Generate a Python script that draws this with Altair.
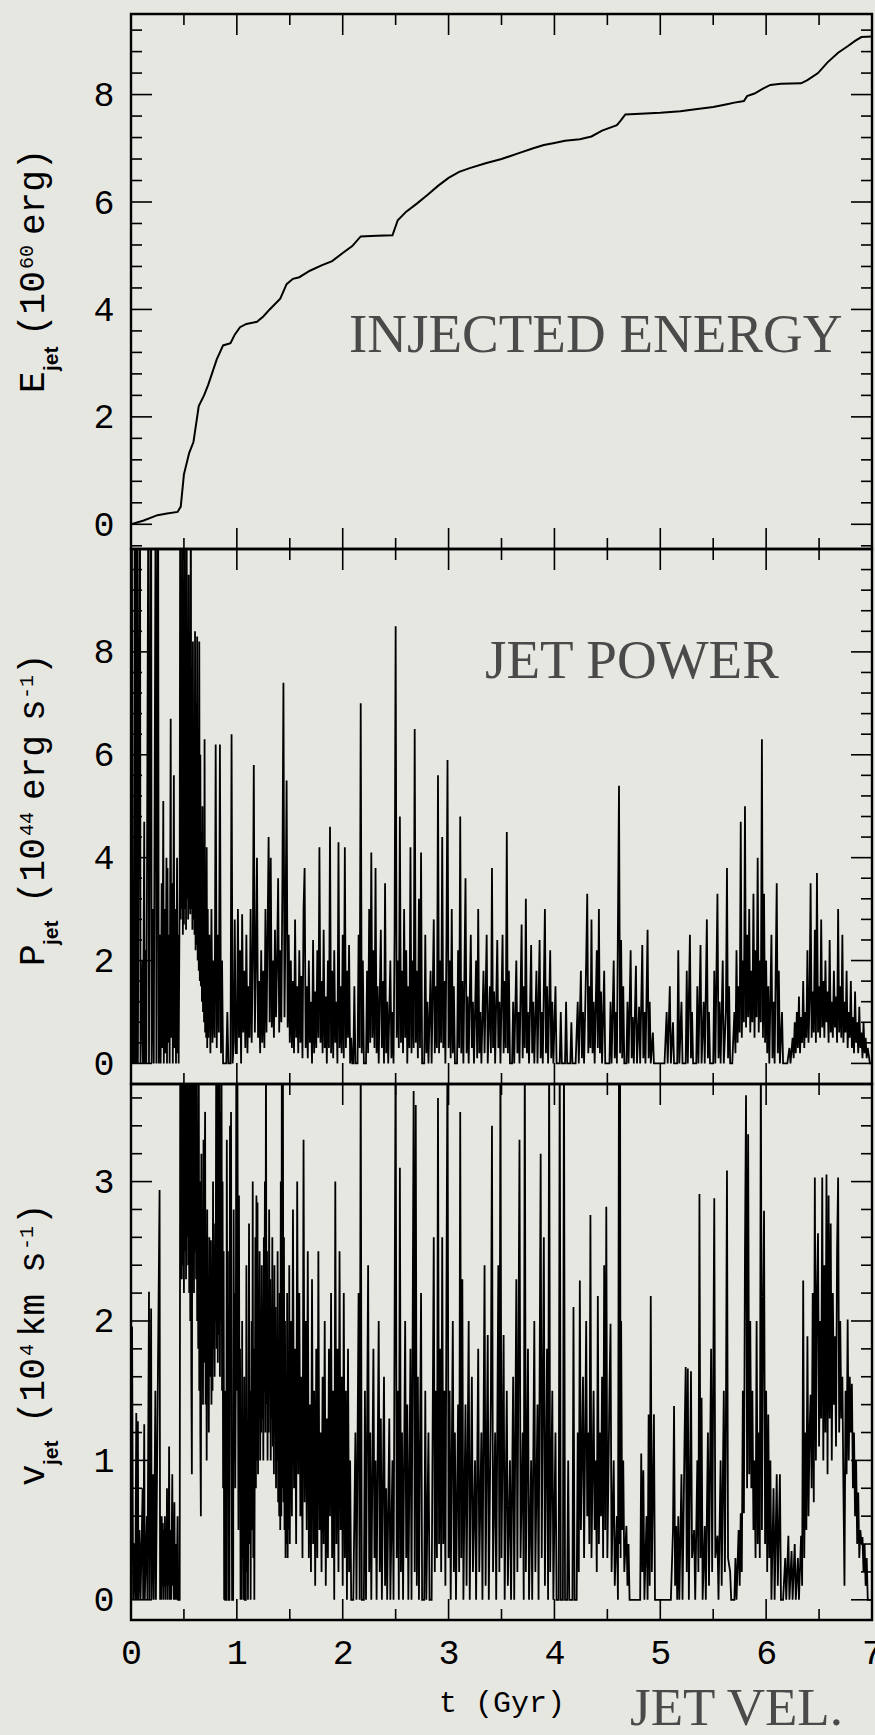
import altair as alt
import pandas as pd

# ---------------- data ----------------
energy_points = [
    (0.00, 0.00), (0.12, 0.07), (0.25, 0.17), (0.34, 0.20), (0.44, 0.23), (0.47, 0.33), (0.50, 0.93),
    (0.55, 1.33), (0.59, 1.53), (0.64, 2.20), (0.69, 2.40), (0.73, 2.60), (0.81, 3.07), (0.87, 3.33),
    (0.94, 3.37), (0.98, 3.53), (1.03, 3.67), (1.09, 3.73), (1.19, 3.77), (1.25, 3.87), (1.31, 4.00),
    (1.41, 4.20), (1.47, 4.47), (1.53, 4.57), (1.59, 4.60), (1.69, 4.72), (1.80, 4.82), (1.90, 4.90),
    (2.00, 5.05), (2.09, 5.18), (2.17, 5.36), (2.32, 5.37), (2.47, 5.38), (2.52, 5.66), (2.60, 5.82),
    (2.70, 5.97), (2.80, 6.13), (2.90, 6.30), (3.00, 6.45), (3.10, 6.56), (3.20, 6.63), (3.35, 6.72),
    (3.50, 6.80), (3.65, 6.90), (3.80, 7.00), (3.90, 7.06), (4.00, 7.10), (4.10, 7.14), (4.24, 7.17),
    (4.35, 7.22), (4.45, 7.33), (4.59, 7.43), (4.62, 7.50), (4.67, 7.63), (5.00, 7.66), (5.19, 7.69),
    (5.35, 7.73), (5.50, 7.77), (5.63, 7.82), (5.70, 7.85), (5.79, 7.88), (5.82, 7.97), (5.89, 8.02),
    (5.97, 8.11), (6.04, 8.18), (6.14, 8.20), (6.33, 8.21), (6.39, 8.27), (6.49, 8.40), (6.58, 8.60),
    (6.68, 8.78), (6.77, 8.90), (6.84, 9.00), (6.90, 9.07), (7.00, 9.08),
]

power_points = [
    (0.000, 0), (0.008, 12), (0.015, 0), (0.022, 3.0), (0.028, 0), (0.035, 12), (0.040, 0), (0.047, 12),
    (0.052, 0), (0.060, 12), (0.065, 0), (0.085, 12), (0.090, 0), (0.108, 2.0), (0.113, 0), (0.125, 4.7),
    (0.130, 0), (0.140, 2.2), (0.145, 0), (0.165, 12), (0.170, 0), (0.190, 12), (0.195, 0), (0.210, 3.0),
    (0.215, 0), (0.234, 12), (0.240, 0), (0.256, 12), (0.262, 0), (0.272, 2.5), (0.280, 0), (0.290, 3.5),
    (0.295, 0.3), (0.305, 5.1), (0.310, 0), (0.320, 3.0), (0.325, 0.2), (0.335, 4.0), (0.340, 0),
    (0.345, 3.8), (0.350, 0.4), (0.360, 2.5), (0.365, 0), (0.375, 6.7), (0.380, 0.5), (0.390, 3.5),
    (0.395, 0), (0.405, 5.6), (0.410, 0.3), (0.420, 3.0), (0.425, 0), (0.435, 4.0), (0.440, 0.2),
    (0.445, 2.5), (0.450, 0), (0.460, 3.5), (0.465, 12), (0.470, 2.8), (0.475, 9.0), (0.480, 3.0),
    (0.485, 12), (0.490, 2.5), (0.495, 6.6), (0.500, 2.7), (0.505, 12), (0.510, 3.0), (0.515, 7.5),
    (0.520, 2.6), (0.525, 12), (0.530, 3.2), (0.535, 6.5), (0.540, 2.8), (0.545, 9.5), (0.550, 3.0),
    (0.555, 7.0), (0.560, 2.9), (0.565, 12), (0.570, 3.0), (0.575, 6.0), (0.580, 2.6), (0.585, 8.2),
    (0.590, 2.8), (0.595, 6.5), (0.600, 2.5), (0.605, 8.4), (0.610, 2.2), (0.615, 7.0), (0.620, 2.3),
    (0.625, 8.3), (0.630, 2.0), (0.635, 5.5), (0.640, 1.8), (0.645, 8.2), (0.650, 1.6), (0.655, 6.0),
    (0.660, 1.5), (0.665, 4.5), (0.670, 1.2), (0.675, 5.0), (0.680, 1.0), (0.685, 4.0), (0.690, 0.8),
    (0.695, 6.3), (0.700, 0.6), (0.705, 3.5), (0.710, 0.5), (0.715, 4.2), (0.720, 0.3), (0.725, 3.0),
    (0.730, 0.5), (0.740, 2.5), (0.750, 0.2), (0.760, 3.0), (0.770, 0.4), (0.780, 2.0), (0.790, 0.5),
    (0.800, 6.2), (0.810, 0.3), (0.820, 2.5), (0.830, 0.6), (0.840, 6.2), (0.850, 0.2), (0.860, 2.0),
    (0.870, 0), (0.900, 0), (0.910, 1.0), (0.920, 0), (0.940, 0), (0.950, 6.4), (0.960, 0), (0.970, 0.4),
    (0.980, 2.8), (0.990, 0.2), (1.00, 0.2), (1.01, 3.0), (1.02, 0.5), (1.03, 2.2), (1.04, 0), (1.05, 2.9),
    (1.06, 0.6), (1.07, 1.8), (1.08, 0.3), (1.09, 2.5), (1.10, 0.2), (1.11, 1.5), (1.12, 0.5), (1.13, 3.0),
    (1.14, 0.4), (1.15, 2.0), (1.16, 5.8), (1.17, 0.6), (1.18, 2.0), (1.19, 4.0), (1.20, 0.5), (1.21, 1.6),
    (1.22, 0.2), (1.23, 2.2), (1.24, 0.4), (1.25, 1.8), (1.26, 0.3), (1.27, 3.0), (1.28, 0.6), (1.29, 2.5),
    (1.30, 4.4), (1.31, 0.8), (1.32, 4.0), (1.33, 0.7), (1.34, 2.0), (1.35, 0.5), (1.36, 2.6), (1.37, 0.9),
    (1.38, 2.0), (1.39, 3.6), (1.40, 0.6), (1.41, 2.2), (1.42, 0.8), (1.43, 3.5), (1.44, 7.4), (1.45, 0.9),
    (1.46, 2.8), (1.47, 5.5), (1.48, 0.7), (1.49, 2.5), (1.50, 0.4), (1.51, 2.0), (1.52, 0.3), (1.53, 1.6),
    (1.54, 0.2), (1.55, 2.8), (1.56, 0.5), (1.57, 1.5), (1.58, 0.2), (1.59, 2.2), (1.60, 0.4), (1.61, 1.7),
    (1.62, 0.1), (1.63, 3.0), (1.64, 3.8), (1.65, 0.3), (1.66, 1.5), (1.67, 0.1), (1.68, 2.0), (1.69, 0.4),
    (1.70, 1.2), (1.71, 0), (1.72, 2.4), (1.73, 0.2), (1.74, 1.4), (1.75, 0.3), (1.76, 2.2), (1.77, 0.5),
    (1.78, 4.2), (1.79, 0.4), (1.80, 1.6), (1.81, 0.2), (1.82, 2.6), (1.83, 0.3), (1.84, 1.3), (1.85, 0),
    (1.86, 2.0), (1.87, 0.3), (1.88, 4.6), (1.89, 0.2), (1.90, 1.8), (1.91, 0.1), (1.92, 2.2), (1.93, 0.4),
    (1.94, 1.2), (1.95, 0), (1.96, 4.3), (1.97, 0.3), (1.98, 1.5), (1.99, 0.2), (2.00, 2.5), (2.01, 0.1),
    (2.02, 4.2), (2.03, 0.3), (2.04, 1.8), (2.05, 0.5), (2.06, 2.3), (2.07, 0), (2.08, 0.5), (2.09, 0),
    (2.10, 0), (2.11, 1.5), (2.12, 0), (2.14, 0), (2.15, 2.5), (2.16, 0.3), (2.17, 7.0), (2.18, 0.2),
    (2.19, 2.0), (2.20, 0), (2.22, 0), (2.23, 1.8), (2.24, 0.2), (2.25, 3.0), (2.26, 0.4), (2.27, 4.1),
    (2.28, 0.5), (2.29, 2.2), (2.30, 0.3), (2.31, 3.8), (2.32, 0.2), (2.33, 1.5), (2.34, 0), (2.36, 2.6),
    (2.37, 0.3), (2.38, 1.6), (2.39, 0), (2.40, 3.5), (2.41, 0.2), (2.42, 1.2), (2.43, 0), (2.45, 2.0),
    (2.46, 0.1), (2.47, 1.0), (2.48, 0), (2.49, 2.5), (2.50, 8.5), (2.51, 0.5), (2.52, 2.0), (2.53, 0.3),
    (2.54, 4.8), (2.55, 0.4), (2.56, 1.8), (2.57, 0.2), (2.58, 3.0), (2.59, 0.5), (2.60, 2.2), (2.61, 0),
    (2.62, 1.5), (2.63, 0.3), (2.64, 4.2), (2.65, 0.2), (2.66, 2.0), (2.67, 0.3), (2.68, 6.5), (2.69, 0.4),
    (2.70, 1.8), (2.71, 0.1), (2.72, 3.2), (2.73, 0.3), (2.74, 4.1), (2.75, 0), (2.77, 0), (2.78, 2.5),
    (2.79, 0.2), (2.80, 1.2), (2.81, 0), (2.83, 1.8), (2.84, 0), (2.86, 2.8), (2.87, 0.2), (2.88, 1.5),
    (2.89, 0.3), (2.90, 5.6), (2.91, 0.2), (2.92, 2.0), (2.93, 0.4), (2.94, 4.4), (2.95, 0.3), (2.96, 1.6),
    (2.97, 0), (2.98, 2.4), (2.99, 5.9), (3.00, 0.3), (3.01, 2.0), (3.02, 0.1), (3.03, 3.0), (3.04, 0.2),
    (3.05, 1.5), (3.06, 0), (3.08, 0), (3.09, 2.2), (3.10, 0.3), (3.11, 4.8), (3.12, 0.2), (3.13, 1.6),
    (3.14, 0), (3.16, 3.6), (3.17, 0.2), (3.18, 1.3), (3.19, 0), (3.21, 2.5), (3.22, 0.3), (3.23, 1.2),
    (3.24, 0), (3.26, 2.0), (3.27, 0.1), (3.28, 3.0), (3.29, 0.2), (3.30, 1.0), (3.31, 0), (3.33, 1.8),
    (3.34, 0.2), (3.36, 2.5), (3.37, 0), (3.39, 1.5), (3.40, 0.2), (3.41, 3.8), (3.42, 0.3), (3.43, 1.4),
    (3.44, 0), (3.46, 2.4), (3.47, 0.3), (3.48, 1.2), (3.49, 0), (3.51, 2.5), (3.52, 0.2), (3.53, 1.6),
    (3.54, 0.3), (3.55, 4.5), (3.56, 0.2), (3.57, 1.8), (3.58, 0), (3.60, 0), (3.61, 1.2), (3.62, 0),
    (3.64, 2.0), (3.65, 0.2), (3.66, 1.0), (3.67, 0), (3.69, 2.7), (3.70, 0.1), (3.71, 1.5), (3.72, 0.3),
    (3.73, 3.2), (3.74, 0.2), (3.75, 1.0), (3.76, 0), (3.78, 2.3), (3.79, 0.2), (3.80, 1.2), (3.81, 0),
    (3.83, 1.8), (3.84, 0), (3.86, 2.4), (3.87, 0.1), (3.88, 1.0), (3.89, 0), (3.91, 3.0), (3.92, 0.2),
    (3.93, 1.5), (3.94, 0), (3.96, 2.2), (3.97, 0.1), (3.98, 1.2), (3.99, 0), (4.01, 1.5), (4.02, 0),
    (4.05, 0), (4.06, 1.0), (4.07, 0), (4.10, 0), (4.11, 1.2), (4.12, 0), (4.15, 0), (4.16, 0.8), (4.17, 0),
    (4.20, 0), (4.22, 1.2), (4.23, 0), (4.25, 1.8), (4.26, 0.1), (4.27, 1.0), (4.28, 0), (4.30, 2.0),
    (4.31, 3.3), (4.32, 0.2), (4.33, 1.5), (4.34, 0.3), (4.35, 2.8), (4.36, 0.2), (4.37, 1.2), (4.38, 0),
    (4.40, 2.2), (4.41, 0.3), (4.42, 3.0), (4.43, 0.2), (4.44, 1.4), (4.45, 0), (4.47, 1.8), (4.48, 0),
    (4.52, 0), (4.53, 1.2), (4.54, 0), (4.56, 2.0), (4.57, 0.1), (4.58, 1.0), (4.59, 0), (4.61, 5.4),
    (4.62, 0.2), (4.63, 2.4), (4.64, 0.1), (4.65, 1.5), (4.66, 0), (4.68, 0), (4.69, 1.2), (4.70, 0),
    (4.72, 2.2), (4.73, 0.1), (4.74, 0.9), (4.75, 0), (4.77, 1.9), (4.78, 0), (4.80, 1.1), (4.81, 0),
    (4.83, 2.3), (4.84, 0.1), (4.85, 1.0), (4.86, 0), (4.88, 2.6), (4.89, 0.1), (4.90, 1.2), (4.91, 0),
    (4.93, 0.6), (4.94, 0), (5.04, 0), (5.06, 1.0), (5.07, 0), (5.09, 1.5), (5.10, 0), (5.12, 0.8),
    (5.13, 0), (5.16, 0), (5.17, 2.2), (5.18, 0), (5.20, 1.2), (5.21, 0), (5.24, 0), (5.25, 1.8), (5.26, 0),
    (5.28, 2.5), (5.29, 0.1), (5.30, 1.0), (5.31, 0), (5.34, 0), (5.35, 1.5), (5.36, 0), (5.38, 2.3),
    (5.39, 0), (5.41, 1.2), (5.42, 0), (5.44, 2.8), (5.45, 0.1), (5.46, 1.0), (5.47, 0), (5.50, 0),
    (5.51, 1.8), (5.52, 0), (5.54, 3.3), (5.55, 0.1), (5.56, 1.2), (5.57, 0), (5.59, 2.0), (5.60, 0),
    (5.62, 1.0), (5.63, 3.8), (5.64, 0.1), (5.65, 1.5), (5.66, 0), (5.68, 0), (5.70, 1.0), (5.71, 0.2),
    (5.72, 2.2), (5.73, 0.4), (5.74, 1.5), (5.75, 0.6), (5.76, 4.7), (5.77, 0.5), (5.78, 2.0), (5.79, 0.8),
    (5.80, 5.0), (5.81, 0.7), (5.82, 2.5), (5.83, 0.9), (5.84, 3.0), (5.85, 0.6), (5.86, 1.8), (5.87, 0.8),
    (5.88, 3.3), (5.89, 0.5), (5.90, 2.2), (5.91, 0.9), (5.92, 4.0), (5.93, 0.6), (5.94, 2.0), (5.95, 0.8),
    (5.96, 6.3), (5.97, 0.5), (5.98, 3.3), (5.99, 0.4), (6.00, 2.0), (6.01, 0.2), (6.02, 1.5), (6.03, 0),
    (6.05, 2.5), (6.06, 0.1), (6.07, 1.2), (6.08, 0), (6.10, 3.5), (6.11, 0.2), (6.12, 1.8), (6.13, 0),
    (6.15, 1.0), (6.16, 0), (6.20, 0), (6.22, 0.3), (6.23, 0), (6.25, 0.5), (6.26, 0.1), (6.27, 0.8),
    (6.28, 0.2), (6.29, 1.0), (6.30, 0.3), (6.31, 1.3), (6.32, 0.2), (6.33, 0.9), (6.34, 0.4), (6.35, 1.6),
    (6.36, 0.3), (6.37, 1.0), (6.38, 0.5), (6.39, 2.2), (6.40, 0.4), (6.41, 1.2), (6.42, 3.5), (6.43, 0.5),
    (6.44, 1.4), (6.45, 0.6), (6.46, 2.6), (6.47, 0.4), (6.48, 3.7), (6.49, 0.6), (6.50, 1.5), (6.51, 0.5),
    (6.52, 2.8), (6.53, 0.7), (6.54, 1.6), (6.55, 0.5), (6.56, 2.0), (6.57, 0.8), (6.58, 1.4), (6.59, 0.4),
    (6.60, 2.4), (6.61, 0.6), (6.62, 1.2), (6.63, 0.5), (6.64, 1.8), (6.65, 0.7), (6.66, 1.3), (6.67, 0.4),
    (6.68, 3.0), (6.69, 0.6), (6.70, 1.5), (6.71, 0.5), (6.72, 2.5), (6.73, 0.4), (6.74, 1.2), (6.75, 0.6),
    (6.76, 1.8), (6.77, 0.3), (6.78, 1.0), (6.79, 0.5), (6.80, 1.6), (6.81, 0.3), (6.82, 0.9), (6.83, 0.2),
    (6.84, 1.4), (6.85, 0.4), (6.86, 0.8), (6.87, 0.2), (6.88, 1.1), (6.89, 0.3), (6.90, 0.6), (6.91, 0.1),
    (6.92, 0.8), (6.93, 0.2), (6.94, 0.5), (6.95, 0.1), (6.96, 0.3), (6.98, 0), (7.00, 0),
]

velocity_points = [
    (0.000, 0), (0.010, 1.96), (0.020, 0), (0.030, 0.4), (0.040, 0), (0.050, 1.34), (0.055, 0), (0.065, 1.28),
    (0.070, 0), (0.080, 0.5), (0.090, 0), (0.110, 0.8), (0.115, 0), (0.125, 1.26), (0.130, 0), (0.150, 0.6),
    (0.155, 0), (0.170, 2.21), (0.175, 0), (0.190, 2.09), (0.195, 0), (0.210, 0.9), (0.215, 0), (0.230, 1.5),
    (0.235, 0), (0.270, 2.94), (0.275, 0), (0.280, 0.5), (0.285, 0), (0.290, 0.6), (0.295, 0.1), (0.300, 0.55),
    (0.305, 0), (0.310, 0.5), (0.315, 0.1), (0.320, 0.6), (0.325, 0), (0.330, 0.45), (0.335, 0.1), (0.340, 0.8),
    (0.345, 0), (0.350, 0.6), (0.355, 0.1), (0.360, 1.1), (0.365, 0), (0.375, 0.5), (0.380, 0), (0.390, 0.9),
    (0.395, 0.1), (0.400, 0.5), (0.405, 0), (0.410, 0.7), (0.415, 0), (0.425, 0.4), (0.430, 0), (0.440, 0.6),
    (0.445, 0), (0.460, 0), (0.465, 4), (0.470, 2.5), (0.475, 4), (0.480, 2.3), (0.485, 4), (0.490, 2.4),
    (0.495, 4), (0.500, 2.2), (0.505, 4), (0.510, 2.5), (0.515, 4), (0.520, 2.3), (0.525, 4), (0.530, 2.6),
    (0.535, 4), (0.540, 2.4), (0.545, 4), (0.550, 2.2), (0.555, 4), (0.560, 2.0), (0.565, 4), (0.570, 1.6),
    (0.575, 0.9), (0.580, 4), (0.585, 2.4), (0.590, 4), (0.595, 2.2), (0.600, 4), (0.605, 2.5), (0.610, 4),
    (0.615, 2.3), (0.620, 4), (0.625, 2.0), (0.630, 3.4), (0.635, 1.8), (0.640, 4), (0.645, 1.5), (0.650, 3.0),
    (0.655, 1.2), (0.660, 0.6), (0.665, 3.2), (0.670, 1.6), (0.675, 2.8), (0.680, 1.4), (0.685, 3.3),
    (0.690, 1.7), (0.695, 2.9), (0.700, 3.5), (0.705, 1.4), (0.710, 2.6), (0.715, 1.0), (0.720, 2.8),
    (0.725, 1.5), (0.730, 2.2), (0.735, 1.2), (0.740, 2.6), (0.745, 1.6), (0.750, 2.0), (0.755, 2.58),
    (0.760, 1.4), (0.765, 2.2), (0.770, 1.5), (0.775, 3.0), (0.780, 1.8), (0.785, 2.4), (0.790, 1.6),
    (0.795, 2.7), (0.800, 2.0), (0.805, 4), (0.810, 1.8), (0.815, 4), (0.820, 1.7), (0.825, 4), (0.830, 1.9),
    (0.835, 4), (0.840, 1.6), (0.845, 3.5), (0.850, 2.0), (0.855, 4), (0.860, 1.5), (0.865, 3.0), (0.870, 0.8),
    (0.875, 2.5), (0.880, 0), (0.885, 1.5), (0.890, 0), (0.900, 0), (0.905, 3.3), (0.910, 1.4), (0.915, 2.5),
    (0.920, 0), (0.930, 0), (0.935, 3.4), (0.940, 1.8), (0.945, 3.5), (0.950, 1.2), (0.955, 0), (0.965, 0),
    (0.970, 2.8), (0.975, 1.0), (0.980, 2.2), (0.985, 0.8), (0.990, 1.6), (0.995, 4), (1.000, 1.5),
    (1.005, 4), (1.010, 2.0), (1.015, 0.5), (1.020, 2.9), (1.025, 0.8), (1.030, 1.8), (1.035, 0), (1.040, 1.2),
    (1.045, 0), (1.050, 2.0), (1.055, 0.3), (1.060, 1.0), (1.065, 0), (1.070, 1.6), (1.075, 0), (1.085, 0),
    (1.090, 2.4), (1.095, 0.2), (1.100, 1.2), (1.105, 0), (1.115, 2.7), (1.120, 0.4), (1.125, 1.5), (1.130, 0),
    (1.140, 2.0), (1.145, 0.5), (1.150, 3.0), (1.155, 0.3), (1.160, 1.8), (1.165, 0), (1.175, 2.6), (1.180, 0.8),
    (1.185, 2.9), (1.190, 1.0), (1.195, 2.85), (1.200, 0.9), (1.205, 2.2), (1.210, 1.4), (1.215, 2.5),
    (1.220, 1.0), (1.225, 1.8), (1.230, 1.2), (1.235, 2.4), (1.240, 1.3), (1.245, 2.0), (1.250, 1.0),
    (1.255, 2.6), (1.260, 1.5), (1.265, 3.0), (1.270, 1.2), (1.275, 4), (1.280, 1.4), (1.285, 2.5), (1.290, 1.0),
    (1.295, 2.2), (1.300, 1.2), (1.305, 2.8), (1.310, 1.5), (1.315, 2.3), (1.320, 1.0), (1.325, 2.0),
    (1.330, 1.3), (1.335, 2.6), (1.340, 1.1), (1.345, 1.9), (1.350, 0.9), (1.355, 2.4), (1.360, 1.2),
    (1.365, 2.1), (1.370, 0.8), (1.375, 1.7), (1.380, 1.0), (1.385, 2.5), (1.390, 0.7), (1.395, 1.8),
    (1.400, 0.6), (1.405, 2.2), (1.410, 0.5), (1.415, 3.0), (1.420, 0.6), (1.425, 4), (1.430, 0.8), (1.435, 4),
    (1.440, 0.7), (1.445, 2.6), (1.450, 0.5), (1.455, 2.0), (1.460, 0.3), (1.465, 1.5), (1.470, 0.4),
    (1.475, 2.2), (1.480, 0.3), (1.485, 1.6), (1.490, 0.5), (1.495, 2.4), (1.500, 0.4),
    (1.51, 2.0), (1.52, 0.6), (1.53, 2.8), (1.54, 0.8), (1.55, 1.8), (1.56, 0.4), (1.57, 3.0), (1.58, 0.9),
    (1.59, 2.2), (1.60, 0.6), (1.61, 1.6), (1.62, 0.3), (1.63, 3.3), (1.64, 0.7), (1.65, 2.0), (1.66, 0.5),
    (1.67, 2.5), (1.68, 0.3), (1.69, 1.4), (1.70, 0.2), (1.71, 2.3), (1.72, 0.4), (1.73, 1.5), (1.74, 0.1),
    (1.75, 1.8), (1.76, 0.3), (1.77, 2.5), (1.78, 0.5), (1.79, 1.2), (1.80, 0.2), (1.81, 1.6), (1.82, 0.4),
    (1.83, 2.0), (1.84, 0.1), (1.85, 1.3), (1.86, 0.3), (1.87, 1.8), (1.88, 0.6), (1.89, 2.2), (1.90, 0.3),
    (1.91, 1.5), (1.92, 0), (1.93, 3.0), (1.94, 0.4), (1.95, 1.8), (1.96, 0.2), (1.97, 2.5), (1.98, 0.5),
    (1.99, 1.6), (2.00, 0.1), (2.01, 2.2), (2.02, 0.3), (2.03, 1.5), (2.04, 0), (2.05, 1.8), (2.06, 0.2),
    (2.07, 1.0), (2.08, 0), (2.10, 0), (2.12, 1.2), (2.13, 0), (2.15, 2.2), (2.16, 0), (2.17, 4), (2.18, 0),
    (2.20, 0), (2.21, 1.5), (2.22, 0), (2.24, 2.4), (2.25, 0.2), (2.26, 1.2), (2.27, 0), (2.29, 1.8),
    (2.30, 0.3), (2.31, 1.0), (2.32, 0), (2.34, 2.0), (2.35, 0.2), (2.36, 1.3), (2.37, 0), (2.39, 1.6),
    (2.40, 0.1), (2.41, 0.8), (2.42, 0), (2.44, 1.3), (2.45, 0), (2.47, 1.0), (2.48, 0), (2.49, 2.0),
    (2.50, 4), (2.51, 0.3), (2.52, 1.5), (2.53, 0), (2.54, 3.1), (2.55, 0.2), (2.56, 1.2), (2.57, 0),
    (2.59, 2.0), (2.60, 0.3), (2.61, 1.4), (2.62, 0), (2.64, 1.8), (2.65, 0), (2.67, 3.65), (2.68, 0.2),
    (2.69, 3.55), (2.70, 0.1), (2.71, 1.6), (2.72, 0), (2.74, 2.2), (2.75, 0), (2.77, 0), (2.78, 1.5),
    (2.79, 0), (2.81, 1.2), (2.82, 0), (2.84, 0), (2.86, 2.6), (2.87, 0.2), (2.88, 1.5), (2.89, 0.3),
    (2.90, 3.6), (2.91, 0.4), (2.92, 1.8), (2.93, 0.2), (2.94, 2.6), (2.95, 0.4), (2.96, 1.5), (2.97, 0.1),
    (2.98, 2.2), (2.99, 4), (3.00, 0.3), (3.01, 1.5), (3.02, 0), (3.04, 2.0), (3.05, 0.2), (3.06, 1.2),
    (3.07, 0), (3.09, 1.4), (3.10, 0.2), (3.11, 3.5), (3.12, 0.3), (3.13, 2.3), (3.14, 0), (3.16, 1.4),
    (3.17, 0.1), (3.19, 2.0), (3.20, 0), (3.22, 1.6), (3.23, 0.2), (3.25, 1.0), (3.26, 0), (3.28, 1.8),
    (3.29, 0.2), (3.31, 1.2), (3.32, 0), (3.34, 2.4), (3.35, 0.1), (3.37, 1.9), (3.38, 0), (3.40, 1.5),
    (3.41, 3.4), (3.42, 0.2), (3.44, 1.2), (3.45, 0), (3.47, 2.4), (3.48, 0.2), (3.49, 4), (3.50, 0.3),
    (3.52, 1.9), (3.53, 0), (3.55, 1.5), (3.56, 0.1), (3.58, 1.0), (3.59, 0), (3.61, 1.6), (3.62, 0),
    (3.64, 2.3), (3.65, 0.2), (3.67, 3.3), (3.68, 0.3), (3.70, 1.2), (3.71, 0), (3.72, 4), (3.73, 0.2),
    (3.75, 1.8), (3.76, 0), (3.78, 1.0), (3.79, 0), (3.81, 2.0), (3.82, 0.2), (3.84, 1.4), (3.85, 0),
    (3.87, 3.2), (3.88, 0.3), (3.90, 2.6), (3.91, 0.1), (3.93, 1.8), (3.94, 0), (3.95, 4), (3.96, 0.2),
    (3.98, 1.5), (3.99, 0), (4.01, 1.2), (4.02, 0), (4.04, 0), (4.05, 4), (4.06, 0), (4.08, 0), (4.09, 4),
    (4.10, 0), (4.12, 0), (4.13, 1.0), (4.14, 0), (4.17, 0), (4.18, 2.1), (4.19, 0), (4.21, 0), (4.22, 1.2),
    (4.23, 0.2), (4.24, 2.29), (4.25, 0.5), (4.27, 1.6), (4.28, 0.3), (4.30, 2.0), (4.31, 0.6), (4.32, 1.2),
    (4.33, 0.4), (4.34, 2.76), (4.35, 0.3), (4.37, 1.5), (4.38, 0.5), (4.39, 1.0), (4.40, 0.2), (4.41, 2.18),
    (4.42, 0.4), (4.43, 1.2), (4.44, 0.6), (4.45, 1.6), (4.46, 0.3), (4.47, 2.4), (4.48, 0.5), (4.49, 2.82),
    (4.50, 0.3), (4.52, 1.5), (4.53, 1.98), (4.54, 0.2), (4.56, 1.0), (4.57, 0.1), (4.59, 0.6), (4.60, 0),
    (4.610, 4), (4.615, 0.4), (4.620, 4), (4.625, 0.3), (4.63, 2.0), (4.64, 0.5), (4.65, 1.0), (4.66, 0.2),
    (4.68, 0.53), (4.69, 0.1), (4.70, 0.4), (4.71, 0), (4.81, 0), (4.82, 1.05), (4.83, 0.2), (4.84, 0.93),
    (4.85, 0), (4.87, 0.6), (4.88, 0), (4.89, 1.33), (4.90, 0.1), (4.91, 2.18), (4.92, 0.2), (4.94, 1.33),
    (4.95, 0), (5.10, 0), (5.12, 0.5), (5.13, 1.39), (5.14, 0.1), (5.15, 0.53), (5.16, 0), (5.17, 0.6),
    (5.18, 0), (5.20, 0.9), (5.21, 0), (5.23, 1.2), (5.24, 1.67), (5.25, 0.2), (5.26, 1.66), (5.27, 0),
    (5.29, 1.64), (5.30, 0.3), (5.32, 0.5), (5.33, 0), (5.35, 1.0), (5.36, 0.2), (5.37, 2.91), (5.38, 0.3),
    (5.39, 1.45), (5.40, 0), (5.42, 0.53), (5.43, 0), (5.45, 1.2), (5.46, 0.1), (5.48, 1.8), (5.49, 0.2),
    (5.51, 2.88), (5.52, 0.3), (5.54, 0.46), (5.55, 0), (5.57, 1.0), (5.58, 0.1), (5.60, 1.5), (5.61, 0.2),
    (5.62, 1.3), (5.63, 3.08), (5.64, 0.3), (5.66, 0.2), (5.67, 0), (5.70, 0), (5.71, 0.3), (5.72, 0),
    (5.74, 0.5), (5.75, 0.1), (5.76, 0.62), (5.77, 0.2), (5.78, 1.5), (5.79, 0.62), (5.80, 2.5), (5.81, 3.62),
    (5.82, 0.8), (5.83, 3.34), (5.84, 0.9), (5.85, 2.0), (5.86, 0.8), (5.87, 1.5), (5.88, 0.5), (5.89, 1.0),
    (5.90, 0.3), (5.91, 2.0), (5.92, 0.4), (5.93, 1.2), (5.94, 0.3), (5.95, 4), (5.96, 0.5), (5.97, 2.0),
    (5.98, 2.79), (5.99, 0.4), (6.00, 1.5), (6.01, 0.2), (6.02, 1.33), (6.03, 0.3), (6.04, 1.0), (6.05, 0),
    (6.07, 0.8), (6.08, 0), (6.10, 0.9), (6.11, 0.1), (6.13, 0.9), (6.14, 0), (6.16, 0), (6.18, 0.3),
    (6.19, 0), (6.21, 0.46), (6.22, 0), (6.24, 0.35), (6.25, 0), (6.27, 0.4), (6.28, 0), (6.30, 0.3),
    (6.31, 0), (6.33, 0.46), (6.34, 0.1), (6.35, 2.29), (6.36, 0.3), (6.37, 1.2), (6.38, 0.5), (6.39, 1.89),
    (6.40, 0.6), (6.41, 1.2), (6.42, 1.47), (6.43, 0.8), (6.44, 2.2), (6.45, 0.7), (6.46, 3.03), (6.47, 1.0),
    (6.48, 2.2), (6.49, 2.63), (6.50, 1.1), (6.51, 2.0), (6.52, 1.3), (6.53, 3.03), (6.54, 1.0), (6.55, 2.4),
    (6.56, 1.2), (6.57, 3.05), (6.58, 0.9), (6.59, 2.9), (6.60, 1.3), (6.61, 2.7), (6.62, 1.0), (6.63, 2.2),
    (6.64, 1.4), (6.65, 1.89), (6.66, 1.1), (6.67, 2.5), (6.68, 3.03), (6.69, 1.2), (6.70, 2.0), (6.71, 1.3),
    (6.72, 1.6), (6.73, 0.8), (6.74, 0.1), (6.75, 1.5), (6.76, 0.9), (6.77, 2.01), (6.78, 1.0), (6.79, 1.6),
    (6.80, 1.2), (6.81, 1.55), (6.82, 0.8), (6.83, 1.2), (6.84, 0.6), (6.85, 1.0), (6.86, 0.4), (6.87, 0.77),
    (6.88, 0.3), (6.89, 0.5), (6.90, 0.4), (6.91, 0.45), (6.92, 0.2), (6.93, 0.4), (6.94, 0.1), (6.95, 0.3),
    (6.96, 0), (7.00, 0),
]

x_tick_labels = [0, 1, 2, 3, 4, 5, 6, 7]
energy_labels = [0, 2, 4, 6, 8]
power_labels = [0, 2, 4, 6, 8]
velocity_labels = [0, 1, 2, 3]

# ---------------- layout / styling ----------------
W = 741
H1, H2, H3 = 535, 535, 536
BG = "#e7e7e2"
MONO = "Liberation Mono"
SERIF = "Liberation Serif"
SANS = "Liberation Sans"
MAJ, MIN = 21, 11
TICK_W = 1.6

x_scale = alt.Scale(domain=[0, 7], nice=False, zero=False)
x_major = [1, 2, 3, 4, 5, 6]
x_minor = [k * 0.5 for k in range(1, 14) if k % 2]


def to_df(points):
    return pd.DataFrame({"i": range(len(points)),
                         "t": [p[0] for p in points],
                         "v": [p[1] for p in points]})


def text_piece(txt, x, y, font, size, weight="normal", color="black", angle=270, align="left"):
    return alt.Chart(pd.DataFrame({"s": [txt]})).mark_text(
        font=font, fontSize=size, fontWeight=weight, color=color, angle=angle,
        align=align, baseline="alphabetic"
    ).encode(x=alt.value(x), y=alt.value(y), text="s:N")


def panel(points, ydom, H, ymaj, ymin, ylabels, title_pieces, annot, stroke, show_x=False, extra=None):
    ys = alt.Scale(domain=ydom, nice=False, zero=False)
    yaxis = alt.Axis(values=ylabels, labels=True, ticks=False, tickSize=0, domain=False, grid=False,
                     title=None, labelFont=MONO, labelFontSize=35, labelColor="black",
                     labelPadding=17, labelAlign="right", labelBaseline="middle")
    if show_x:
        xaxis = alt.Axis(values=x_tick_labels, labels=True, ticks=False, tickSize=0, domain=False,
                         grid=False, title=None, labelFont=MONO, labelFontSize=35, labelColor="black",
                         labelPadding=43, labelBaseline="alphabetic", labelFlush=False)
    else:
        xaxis = None
    X = alt.X("t:Q", scale=x_scale, axis=xaxis, title=None)
    Y = alt.Y("v:Q", scale=ys, axis=yaxis, title=None)

    line = alt.Chart(to_df(points)).mark_line(
        clip=True, color="black", strokeWidth=stroke, strokeJoin="miter"
    ).encode(x=X, y=Y, order="i:Q")

    layers = [line]
    for vals, ln in ((ymaj, MAJ), (ymin, MIN)):
        d = pd.DataFrame({"v": vals})
        layers.append(alt.Chart(d).mark_rule(color="black", strokeWidth=TICK_W).encode(
            y=Y, x=alt.value(0), x2=alt.value(ln)))
        layers.append(alt.Chart(d).mark_rule(color="black", strokeWidth=TICK_W).encode(
            y=Y, x=alt.value(W - ln), x2=alt.value(W)))
    for vals, ln in ((x_major, MAJ), (x_minor, MIN)):
        d = pd.DataFrame({"t": vals})
        layers.append(alt.Chart(d).mark_rule(color="black", strokeWidth=TICK_W).encode(
            x=X, y=alt.value(0), y2=alt.value(ln)))
        layers.append(alt.Chart(d).mark_rule(color="black", strokeWidth=TICK_W).encode(
            x=X, y=alt.value(H - ln), y2=alt.value(H)))
    for txt, kind, ypos in title_pieces:
        if kind == "main":
            layers.append(text_piece(txt, -87, ypos, MONO, 36))
        elif kind == "sub":
            layers.append(text_piece(txt, -73, ypos, SANS, 21, weight="bold"))
        else:
            layers.append(text_piece(txt, -98, ypos, MONO, 20))
    atxt, ax, ay, asize = annot
    layers.append(text_piece(atxt, ax, ay, SERIF, asize, color="#4a4a4a", angle=0))
    if extra is not None:
        layers.extend(extra)
    return alt.layer(*layers).properties(width=W, height=H)


p1 = panel(
    energy_points, [-0.46, 9.5], H1, [0, 2, 4, 6, 8],
    [round(k * 0.4, 2) for k in range(-1, 24) if k % 5], energy_labels,
    [("E", "main", 379), ("jet", "sub", 357), ("(10", "main", 322), ("60", "sup", 255), ("erg)", "main", 221)],
    ("INJECTED ENERGY", 218, 338, 55), 2.0,
)
p2 = panel(
    power_points, [-0.4, 10.0], H2, [0, 2, 4, 6, 8],
    [round(k * 0.4, 2) for k in range(0, 25) if k % 5], power_labels,
    [("P", "main", 417), ("jet", "sub", 396), ("(10", "main", 354), ("44", "sup", 287),
     ("erg", "main", 251), ("s", "main", 172), ("-1", "sup", 150), (")", "main", 126)],
    ("JET POWER", 354, 129, 55), 1.8,
)
p3 = panel(
    velocity_points, [-0.145, 3.7], H3, [0, 1, 2, 3],
    [round(k * 0.2, 2) for k in range(0, 19) if k % 5], velocity_labels,
    [("v", "main", 402), ("jet", "sub", 381), ("(10", "main", 339), ("4", "sup", 272),
     ("km", "main", 253), ("s", "main", 189), ("-1", "sup", 166), (")", "main", 141)],
    ("JET VEL.", 499, 641, 53), 1.8, show_x=True,
    extra=[text_piece("t (Gyr)", 371, 628, MONO, 30, angle=0, align="center")],
)

chart = alt.vconcat(p1, p2, p3, spacing=0, bounds="flush").properties(
    background=BG,
    padding={"left": 131, "top": 14, "right": 3, "bottom": 1721},
    autosize=alt.AutoSizeParams(type="none"),
).configure_view(stroke="black", strokeWidth=2.4)

chart.save("out.html", embed_options={"renderer": "svg", "actions": False})
